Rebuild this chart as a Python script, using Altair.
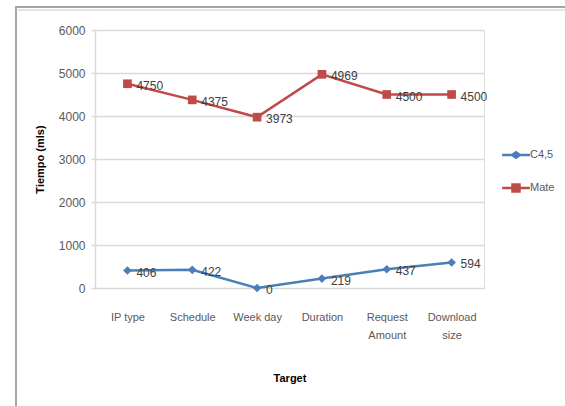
import altair as alt
import pandas as pd

categories = ["IP type", "Schedule", "Week day", "Duration", "Request Amount", "Download size"]
c45_values = [406, 422, 0, 219, 437, 594]
mate_values = [4750, 4375, 3973, 4969, 4500, 4500]
series_names = ["C4,5", "Mate"]
colors = ["#4A7EBB", "#BE4B48"]

rows = []
for s, vals in zip(series_names, [c45_values, mate_values]):
    for c, v in zip(categories, vals):
        rows.append({"Target": c, "series": s, "value": v})
df = pd.DataFrame(rows)

FONT = "Liberation Sans"

x_enc = alt.X("Target:N", sort=categories,
              scale=alt.Scale(paddingInner=0, paddingOuter=0),
              axis=alt.Axis(title="Target", labelAngle=0, domain=False, ticks=False,
                            labelPadding=23, labelFont=FONT, labelFontSize=11,
                            labelColor="#595959", labelLineHeight=18,
                            labelExpr="datum.label == 'Request Amount' ? ['Request','Amount'] : datum.label == 'Download size' ? ['Download','size'] : datum.label",
                            titleFont=FONT, titleFontSize=11, titleFontWeight="bold",
                            titleColor="#000000", titleY=90, titleBaseline="middle"))
x_plain = alt.X("Target:N", sort=categories)
y_enc = alt.Y("value:Q", scale=alt.Scale(domain=[0, 6000], nice=False),
              axis=alt.Axis(title="Tiempo (mls)", values=[0, 1000, 2000, 3000, 4000, 5000, 6000],
                            format="d", domain=True, domainColor="#D9D9D9", domainWidth=1.5,
                            tickColor="#D9D9D9", tickSize=4, tickWidth=1.5,
                            gridColor="#D9D9D9", gridWidth=1.5,
                            labelFont=FONT, labelFontSize=12, labelColor="#595959", labelPadding=6,
                            titleFont=FONT, titleFontSize=11, titleFontWeight="bold",
                            titleColor="#000000", titleX=-55, titleY=129, titleAngle=-90,
                            titleBaseline="middle"))
color_scale = alt.Scale(domain=series_names, range=colors)

base = alt.Chart(df)
lines = base.mark_line(strokeWidth=2.5).encode(
    x=x_enc, y=y_enc,
    color=alt.Color("series:N", scale=color_scale, legend=None),
    detail="series:N")
points = base.mark_point(filled=True, opacity=1, size=75).encode(
    x=x_plain, y="value:Q",
    color=alt.Color("series:N", scale=color_scale, legend=None),
    shape=alt.Shape("series:N", scale=alt.Scale(domain=series_names, range=["diamond", "square"]), legend=None))
texts = base.mark_text(align="left", baseline="middle", dx=9, dy=2, font=FONT, fontSize=12,
                       color="#404040").encode(
    x=x_plain, y="value:Q", text="value:Q")

diamond_path = "M-1.6,-0.15H-0.5L0,-0.5L0.5,-0.15H1.6V0.15H0.5L0,0.5L-0.5,0.15H-1.6Z"
square_path = "M-1.6,-0.15H-0.55V-0.55H0.55V-0.15H1.6V0.15H0.55V0.55H-0.55V0.15H-1.6Z"
leg = alt.Legend(title=None, orient="none", legendX=412, legendY=116,
                 symbolSize=300, symbolOpacity=1, symbolStrokeWidth=0,
                 labelFont=FONT, labelFontSize=11, labelColor="#595959",
                 labelOffset=5, rowPadding=19)
legend_layer = base.mark_point(filled=True, opacity=0).encode(
    x=x_plain, y="value:Q",
    color=alt.Color("series:N", scale=color_scale, legend=leg),
    shape=alt.Shape("series:N", scale=alt.Scale(domain=series_names, range=[diamond_path, square_path]),
                    legend=leg))

frame = alt.Chart(pd.DataFrame({"a": [0]})).mark_rect(
    fill=None, stroke="#A6A6A6", strokeWidth=2, clip=False).encode(
    x=alt.value(-79), x2=alt.value(480), y=alt.value(-23), y2=alt.value(400))
frame_top = alt.Chart(pd.DataFrame({"a": [0]})).mark_rule(
    stroke="#C8C8C8", strokeWidth=1, clip=False).encode(
    x=alt.value(-79), x2=alt.value(480), y=alt.value(-20))

chart = alt.layer(frame, frame_top, lines, points, texts, legend_layer).resolve_scale(
    shape="independent", color="independent"
).properties(
    width=389, height=258,
    autosize=alt.AutoSizeParams(type="none"),
    padding={"left": 95, "top": 30, "right": 81, "bottom": 118},
).configure_view(stroke=None).configure(background="white")

chart.save("out.html", embed_options={"renderer": "svg", "actions": False})
